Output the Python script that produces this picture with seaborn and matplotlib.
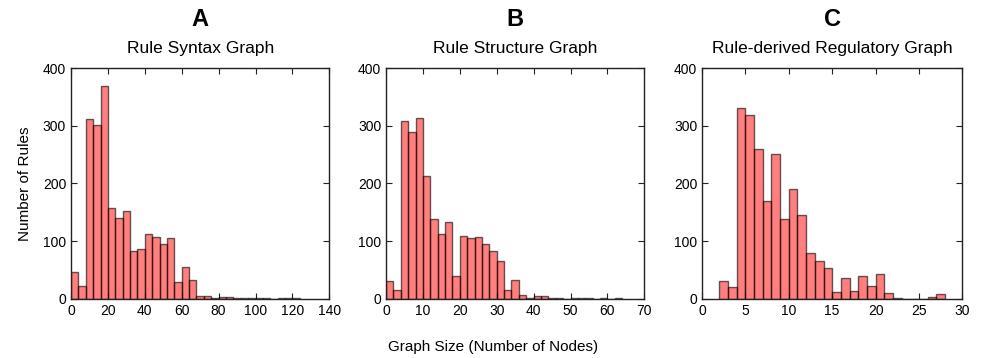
import numpy as np
import pandas as pd
import matplotlib
matplotlib.use("Agg")
import matplotlib.pyplot as plt
import seaborn as sns

# Histogram counts (first edge, bin width, counts per bin)
syntax_start, syntax_width = 0, 4
syntax_counts = [47, 23, 311, 301, 368, 157, 141, 152, 83, 87, 113, 107, 96, 105,
                 30, 56, 32, 5, 5, 2, 4, 4, 2, 1, 1, 1, 1, 0, 2, 1, 1]

structure_start, structure_width = 0, 2
structure_counts = [31, 16, 308, 289, 314, 213, 138, 112, 134, 40, 109, 105, 108, 96,
                    83, 65, 16, 32, 6, 2, 5, 5, 2, 1, 0, 1, 1, 1, 0, 1, 0, 1]

regulatory_start, regulatory_width = 2, 1
regulatory_counts = [31, 21, 330, 319, 259, 170, 251, 138, 190, 145, 79, 65, 53, 12,
                     36, 13, 39, 23, 44, 10, 2, 0, 0, 0, 3, 8]

letters = ["A", "B", "C"]
titles = ["Rule Syntax Graph", "Rule Structure Graph", "Rule-derived Regulatory Graph"]
xticks = [np.arange(0, 141, 20), np.arange(0, 71, 10), np.arange(0, 31, 5)]

sns.set_style("ticks")
plt.rcParams["font.family"] = ["Liberation Sans", "DejaVu Sans"]
plt.rcParams["xtick.direction"] = "in"
plt.rcParams["ytick.direction"] = "in"
plt.rcParams["xtick.top"] = True
plt.rcParams["ytick.right"] = True
plt.rcParams["text.color"] = "black"
plt.rcParams["axes.labelcolor"] = "black"

fig = plt.figure(figsize=(9.86, 3.58), dpi=100)
positions = [
    [0.072, 0.165, 0.262, 0.645],
    [0.3915, 0.165, 0.262, 0.645],
    [0.712, 0.165, 0.264, 0.645],
]

panels = [
    (syntax_start, syntax_width, syntax_counts),
    (structure_start, structure_width, structure_counts),
    (regulatory_start, regulatory_width, regulatory_counts),
]

for i, (start, width, counts) in enumerate(panels):
    ax = fig.add_axes(positions[i])
    n = len(counts)
    centers = start + width * (np.arange(n) + 0.5)
    df = pd.DataFrame({"size": centers, "count": np.asarray(counts, dtype=float)})
    sns.histplot(
        data=df, x="size", weights="count",
        binwidth=width, binrange=(start, start + width * n), ax=ax,
        color="red", linewidth=1,
    )
    # translucent red fill with a translucent dark edge, like the original
    for p in ax.patches:
        p.set_alpha(None)
        p.set_facecolor((1, 0, 0, 0.5))
        p.set_edgecolor((0, 0, 0, 0.6))
    ax.set_xticks(xticks[i])
    ax.set_xlim(xticks[i][0], xticks[i][-1])
    ax.set_ylim(0, 400)
    ax.set_yticks([0, 100, 200, 300, 400])
    ax.tick_params(labelsize=10, length=4, width=0.8, colors="#222222", labelcolor="black")
    ax.set_xlabel("")
    ax.set_ylabel("Number of Rules" if i == 0 else "", fontsize=11, labelpad=8)
    for s in ax.spines.values():
        s.set_linewidth(1)
        s.set_color("#222222")
    ax.text(0.5, 1.21, letters[i], transform=ax.transAxes, ha="center",
            va="center", fontsize=17, fontweight="bold")
    ax.set_title(titles[i], fontsize=12.5, pad=11)

fig.text(0.5, 0.012, "Graph Size (Number of Nodes)", ha="center", va="bottom", fontsize=11)

plt.savefig("out.png", dpi=100)
